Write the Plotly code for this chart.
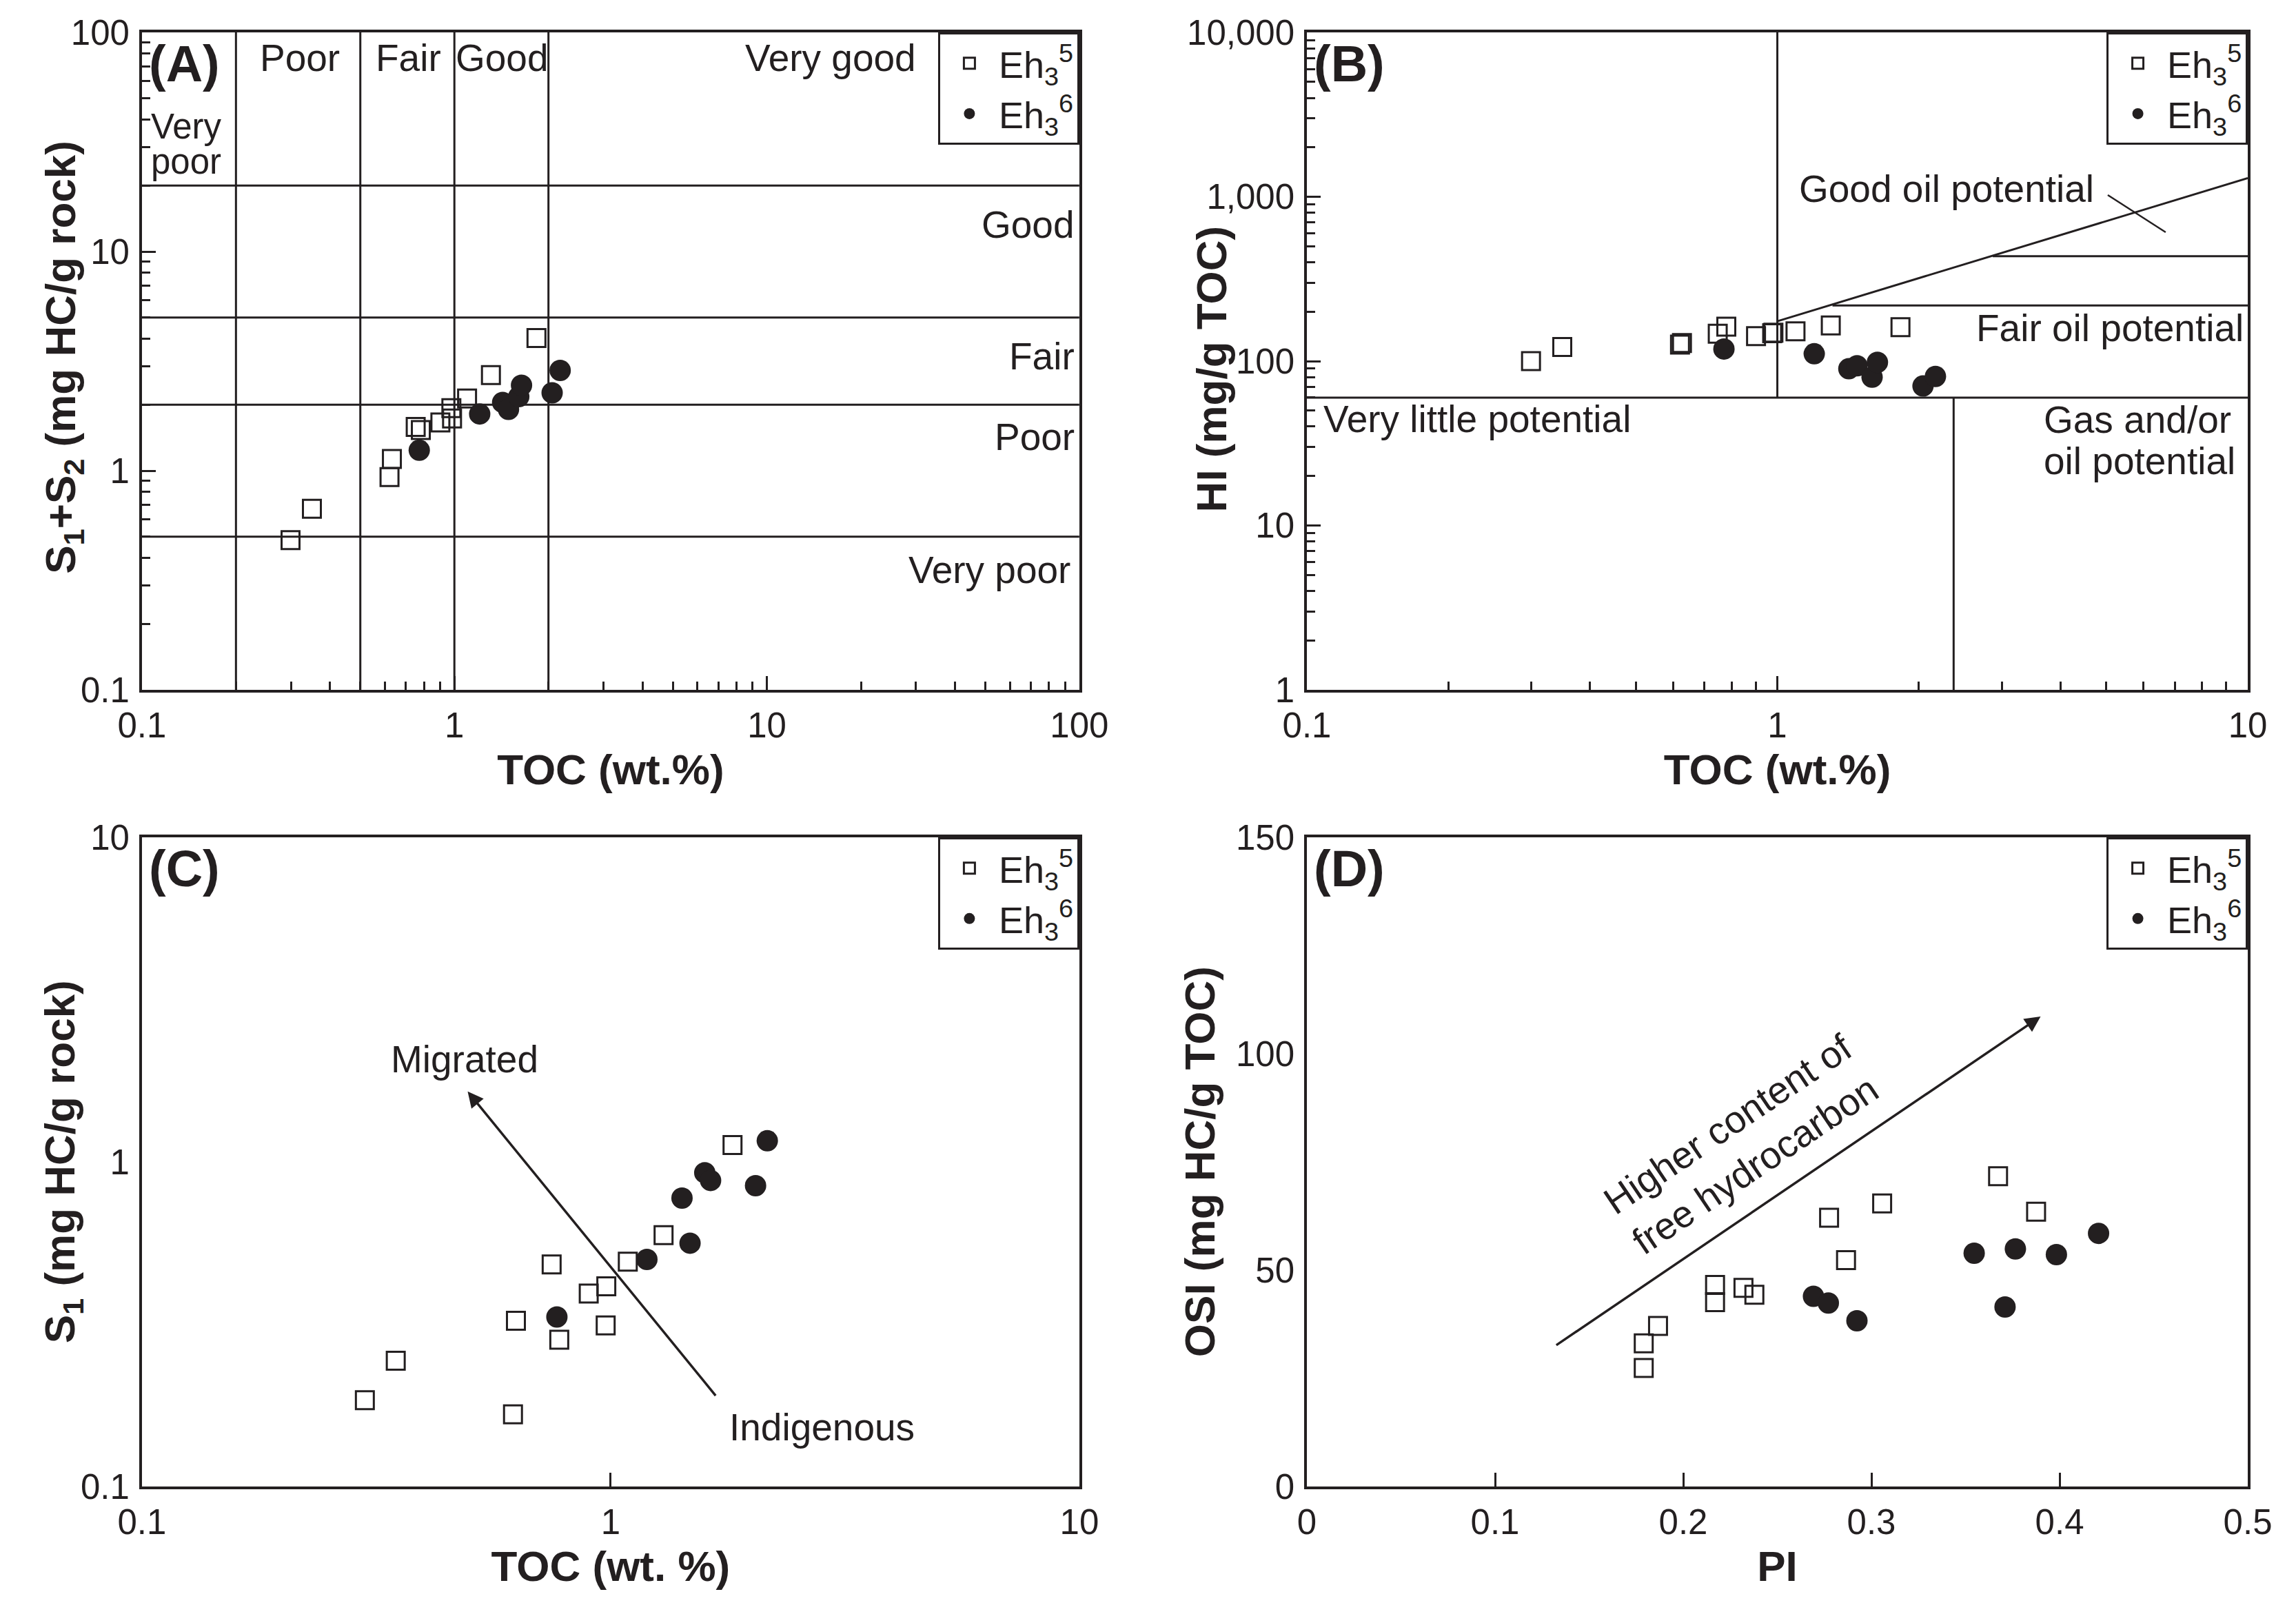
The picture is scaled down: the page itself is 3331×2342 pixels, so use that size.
import plotly.graph_objects as go

INK = "#231f20"
FONT = "Liberation Sans, Arial, Helvetica, sans-serif"

# ---------------- Data ----------------
# Panel A: TOC vs S1+S2
a_toc_eh5 = [0.299, 0.350, 0.620, 0.631, 0.752, 0.781, 0.902, 0.978, 0.983, 1.098, 1.309, 1.831]
a_s1s2_eh5 = [0.482, 0.670, 0.935, 1.132, 1.583, 1.534, 1.662, 1.93, 1.73, 2.135, 2.73, 4.03]
a_toc_eh6 = [0.772, 1.205, 1.427, 1.49, 1.607, 1.64, 2.055, 2.18]
a_s1s2_eh6 = [1.24, 1.816, 2.05, 1.905, 2.177, 2.455, 2.268, 2.87]

# Panel B: TOC vs HI
b_toc_eh5 = [0.2995, 0.349, 0.621, 0.627, 0.747, 0.779, 0.901, 0.975, 0.981, 1.093, 1.299, 1.827]
b_hi_eh5 = [100, 122, 126, 129, 147, 162, 142, 148, 149, 152, 165, 161]
b_toc_eh6 = [0.770, 1.198, 1.419, 1.477, 1.59, 1.632, 2.04, 2.168]
b_hi_eh6 = [118.6, 110.9, 89.9, 93.8, 79.9, 98.4, 70.6, 80.7]

# Panel C: TOC vs S1
c_toc_eh5 = [0.299, 0.348, 0.619, 0.628, 0.7485, 0.777, 0.898, 0.979, 0.976, 1.088, 1.297, 1.82]
c_s1_eh5 = [0.1845, 0.244, 0.167, 0.324, 0.4835, 0.2835, 0.393, 0.414, 0.3136, 0.493, 0.595, 1.127]
c_toc_eh6 = [0.768, 1.195, 1.42, 1.477, 1.588, 1.634, 2.038, 2.159]
c_s1_eh6 = [0.333, 0.501, 0.774, 0.562, 0.926, 0.877, 0.845, 1.162]

# Panel D: PI vs OSI
d_pi_eh5 = [0.179, 0.179, 0.1866, 0.2169, 0.2169, 0.232, 0.2378, 0.2775, 0.2865, 0.3057, 0.3673, 0.3875]
d_osi_eh5 = [27.4, 33.1, 37.1, 46.6, 42.6, 45.9, 44.3, 62.1, 52.3, 65.4, 71.7, 63.5]
d_pi_eh6 = [0.2692, 0.2771, 0.2923, 0.3546, 0.371, 0.3765, 0.3983, 0.4207]
d_osi_eh6 = [43.95, 42.4, 38.3, 53.9, 41.5, 54.9, 53.6, 58.5]

# Classification boundaries
a_toc_bounds = [0.2, 0.5, 1, 2]
a_s1s2_bounds = [0.5, 2, 5, 20]
b_toc_split = 1
b_hi_floor = 60
b_gas_toc = 2.37
b_slope_line = ([1, 10], [175, 1300])
b_fair_line = ([1.31, 10], [218, 218])
b_good_line = ([2.87, 10], [435, 435])
b_leader = ([5.04, 6.69], [1026, 609])

series_names = ["Eh<sub>3</sub><sup>5</sup>", "Eh<sub>3</sub><sup>6</sup>"]

# ---------------- Layout geometry ----------------
DX = -0.0024
DY = 0.0034
XL = [0.0618 + DX, 0.4701 + DX]
XR = [0.5692 + DX, 0.9790 + DX]
YT = [0.5726 + DY, 0.9799 + DY]
YB = [0.0790 + DY, 0.4812 + DY]

fig = go.Figure()


def line(xs, ys, xa, ya, w=3):
    fig.add_trace(go.Scatter(x=xs, y=ys, mode="lines", xaxis=xa, yaxis=ya,
                             line=dict(color=INK, width=w), showlegend=False,
                             hoverinfo="skip"))


# Panel A boundaries
for v in a_toc_bounds:
    line([v, v], [0.1, 100], "x", "y")
for h in a_s1s2_bounds:
    line([0.1, 100], [h, h], "x", "y")

# Panel B boundaries
line([b_toc_split, b_toc_split], [b_hi_floor, 10000], "x2", "y2")
line([0.1, 10], [b_hi_floor, b_hi_floor], "x2", "y2")
line([b_gas_toc, b_gas_toc], [1, b_hi_floor], "x2", "y2")
line(*b_slope_line, "x2", "y2")
line(*b_fair_line, "x2", "y2")
line(*b_good_line, "x2", "y2")
line(*b_leader, "x2", "y2", w=2.5)


def pts(xs, ys, xa, ya, leg, kind):
    if kind == 0:
        m = dict(symbol="square-open", size=26, color=INK, line=dict(color=INK, width=3))
    else:
        m = dict(symbol="circle", size=31, color=INK, line=dict(width=0))
    fig.add_trace(go.Scatter(x=xs, y=ys, mode="markers", xaxis=xa, yaxis=ya,
                             marker=m, name=series_names[kind], legend=leg))


pts(a_toc_eh5, a_s1s2_eh5, "x", "y", "legend", 0)
pts(a_toc_eh6, a_s1s2_eh6, "x", "y", "legend", 1)
pts(b_toc_eh5, b_hi_eh5, "x2", "y2", "legend2", 0)
pts(b_toc_eh6, b_hi_eh6, "x2", "y2", "legend2", 1)
pts(c_toc_eh5, c_s1_eh5, "x3", "y3", "legend3", 0)
pts(c_toc_eh6, c_s1_eh6, "x3", "y3", "legend3", 1)
pts(d_pi_eh5, d_osi_eh5, "x4", "y4", "legend4", 0)
pts(d_pi_eh6, d_osi_eh6, "x4", "y4", "legend4", 1)


def minor_vals(lo, hi):
    out = []
    for e in range(lo, hi):
        for k in range(2, 10):
            out.append(k * 10 ** e)
    return out


def axis(domain, anchor, title, rng, typ="log", tickvals=None, ticktext=None,
         minor=None, ticks="inside", standoff=20):
    d = dict(domain=domain, anchor=anchor, type=typ, range=rng, automargin=False,
             showline=True, mirror=True, linecolor=INK, linewidth=3.5,
             showgrid=False, zeroline=False, ticks=ticks, ticklen=20,
             tickwidth=3, tickcolor=INK, ticklabelstandoff=4,
             tickfont=dict(size=51, color=INK, family=FONT))
    if title:
        d["title"] = dict(text="<b>" + title + "</b>", standoff=standoff,
                          font=dict(size=62, color=INK, family=FONT))
    if tickvals is not None:
        d["tickmode"] = "array"
        d["tickvals"] = tickvals
        d["ticktext"] = ticktext
    if minor is not None:
        d["minor"] = dict(tickmode="array", tickvals=minor, ticks="inside",
                          ticklen=12, tickwidth=2.5, tickcolor=INK)
    return d


dec4 = [0.1, 1, 10, 100]
dec4t = ["0.1", "1", "10", "100"]
dec3 = [0.1, 1, 10]
dec3t = ["0.1", "1", "10"]

fig.update_layout(
    xaxis=axis(XL, "y", "TOC (wt.%)", [-1, 2], tickvals=dec4, ticktext=dec4t,
               minor=minor_vals(-1, 2), standoff=16),
    yaxis=axis(YT, "x", None, [-1, 2],
               tickvals=dec4, ticktext=dec4t, minor=minor_vals(-1, 2)),
    xaxis2=axis(XR, "y2", "TOC (wt.%)", [-1, 1], tickvals=dec3, ticktext=dec3t,
                minor=minor_vals(-1, 1), standoff=16),
    yaxis2=axis(YT, "x2", None, [0, 4],
                tickvals=[1, 10, 100, 1000, 10000],
                ticktext=["1", "10", "100", "1,000", "10,000"],
                minor=minor_vals(0, 4)),
    xaxis3=axis(XL, "y3", "TOC (wt. %)", [-1, 1], tickvals=dec3, ticktext=dec3t,
                standoff=16),
    yaxis3=axis(YB, "x3", None, [-1, 1],
                tickvals=dec3, ticktext=dec3t, ticks=""),
    xaxis4=axis(XR, "y4", "PI", [0, 0.5], typ="linear",
                tickvals=[0, 0.1, 0.2, 0.3, 0.4, 0.5],
                ticktext=["0", "0.1", "0.2", "0.3", "0.4", "0.5"], standoff=16),
    yaxis4=axis(YB, "x4", None, [0, 150], typ="linear",
                tickvals=[0, 50, 100, 150], ticktext=["0", "50", "100", "150"],
                ticks=""),
)


def legend_box(xd, yd):
    return dict(x=xd[1], xanchor="right", y=yd[1], yanchor="top",
                bgcolor="white", bordercolor=INK, borderwidth=3,
                font=dict(size=54, color=INK, family=FONT),
                tracegroupgap=0, itemsizing="trace", itemwidth=75)


fig.update_layout(
    legend=legend_box(XL, YT), legend2=legend_box(XR, YT),
    legend3=legend_box(XL, YB), legend4=legend_box(XR, YB),
)

ann = []


def txt(x, y, s, xr, yr, xanchor="center", size=55, **kw):
    d = dict(x=x, y=y, text=s, xref=xr, yref=yr, showarrow=False,
             xanchor=xanchor, yanchor="middle",
             font=dict(size=size, color=INK, family=FONT))
    d.update(kw)
    ann.append(d)


# Y-axis titles (placed as in the reference, hugging the shorter tick labels)
ytitles = [
    ("S<sub>1</sub>+S<sub>2</sub> (mg HC/g rock)", 0.0250, 0.782),
    ("HI (mg/g TOC)", 0.5255, 0.775),
    ("S<sub>1</sub> (mg HC/g rock)", 0.0250, 0.2835),
    ("OSI (mg HC/g TOC)", 0.5200, 0.2835),
]
for t, px, py in ytitles:
    ann.append(dict(x=px, y=py, xref="paper", yref="paper", text="<b>" + t + "</b>",
                    showarrow=False, textangle=-90, xanchor="center", yanchor="middle",
                    font=dict(size=62, color=INK, family=FONT)))

# Panel labels
for lab, xr, yr in [("(A)", "x", "y"), ("(B)", "x2", "y2"), ("(C)", "x3", "y3"), ("(D)", "x4", "y4")]:
    ann.append(dict(x=0.006, y=0.998, xref=xr + " domain", yref=yr + " domain",
                    text="<b>" + lab + "</b>", showarrow=False, xanchor="left",
                    yanchor="top", font=dict(size=74, color=INK, family=FONT)))

# Panel A zone labels (log coordinates)
txt(-0.975, 1.57, "Very", "x", "y", xanchor="left", size=51)
txt(-0.975, 1.41, "poor", "x", "y", xanchor="left", size=51)
txt(-0.494, 1.885, "Poor", "x", "y")
txt(-0.147, 1.885, "Fair", "x", "y")
txt(0.153, 1.885, "Good", "x", "y")
txt(1.2035, 1.885, "Very good", "x", "y")
txt(1.99, 1.124, "Good", "x", "y", xanchor="right")
txt(1.99, 0.5226, "Fair", "x", "y", xanchor="right")
txt(1.99, 0.155, "Poor", "x", "y", xanchor="right")
txt(1.975, -0.453, "Very poor", "x", "y", xanchor="right")

# Panel B zone labels
txt(0.0425, 3.05, "Good oil potential", "x2", "y2", xanchor="left")
txt(0.994, 2.203, "Fair oil potential", "x2", "y2", xanchor="right")
txt(-0.968, 1.646, "Very little potential", "x2", "y2", xanchor="left")
txt(0.563, 1.644, "Gas and/or", "x2", "y2", xanchor="left")
txt(0.563, 1.393, "oil potential", "x2", "y2", xanchor="left")

# Panel C arrow and labels
ann.append(dict(x=-0.305, y=0.217, ax=0.2258, ay=-0.723, xref="x3", yref="y3",
                axref="x3", ayref="y3", showarrow=True, arrowhead=2, arrowsize=1.3,
                arrowwidth=3.5, arrowcolor=INK, text=""))
txt(-0.312, 0.317, "Migrated", "x3", "y3")
txt(0.4516, -0.817, "Indigenous", "x3", "y3")

# Panel D arrow and label
ann.append(dict(x=0.3899, y=108.6, ax=0.132, ay=32.5, xref="x4", yref="y4",
                axref="x4", ayref="y4", showarrow=True, arrowhead=2, arrowsize=1.3,
                arrowwidth=3.5, arrowcolor=INK, text=""))
txt(0.231, 79, "Higher content of<br>free hydrocarbon", "x4", "y4", textangle=-34)

fig.update_layout(
    annotations=ann,
    width=3331, height=2342, autosize=False,
    margin=dict(l=0, r=0, t=0, b=0),
    paper_bgcolor="white", plot_bgcolor="white",
    font=dict(family=FONT, color=INK),
)

fig.write_html("out.html")
